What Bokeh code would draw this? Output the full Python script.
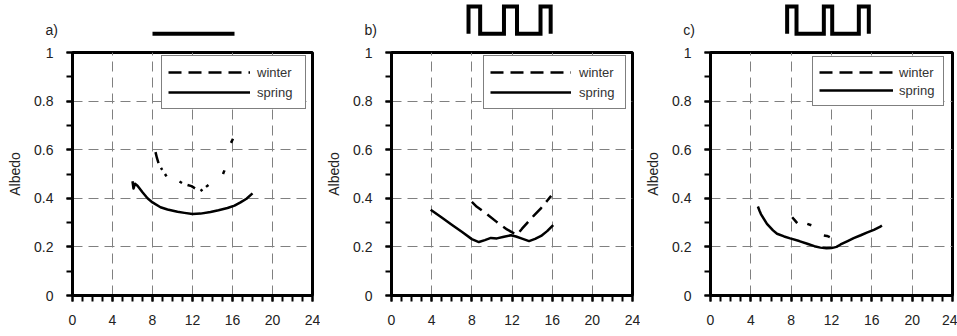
import numpy as np
from bokeh.plotting import figure
from bokeh.layouts import row, column
from bokeh.models import (Range1d, FixedTicker, NumeralTickFormatter, Legend,
                          LegendItem, Label)
from bokeh.embed import file_html
from bokeh.resources import INLINE

nan = float("nan")

# ---------------- data (hour of day, albedo) ----------------
a_spring_h = [6.0, 6.1, 6.25, 6.5, 7.0, 7.5, 8.0, 8.8, 9.5, 10.5, 11.2, 12.0,
              12.8, 13.8, 14.6, 15.5, 16.2, 16.8, 17.4, 18.0]
a_spring_alb = [0.47, 0.44, 0.46, 0.452, 0.425, 0.4, 0.383, 0.363, 0.354, 0.345,
                0.34, 0.335, 0.337, 0.344, 0.351, 0.36, 0.37, 0.383, 0.398, 0.42]
a_winter_h = [8.3, 8.45, 8.6, nan, 8.85, 8.97, nan, 9.25, 9.4, nan, 10.7, 10.95,
              nan, 11.5, 11.9, 12.25, nan, 12.8, 13.0, nan, 13.35, 13.6, nan,
              15.05, 15.2, nan, 15.85, 16.05]
a_winter_alb = [0.59, 0.565, 0.545, nan, 0.525, 0.517, nan, 0.5, 0.49, nan,
                0.469, 0.463, nan, 0.455, 0.45, 0.441, nan, 0.43, 0.436, nan,
                0.447, 0.455, nan, 0.5, 0.515, nan, 0.628, 0.645]

b_spring_h = [3.9, 5.0, 6.0, 7.0, 8.0, 8.7, 9.3, 9.9, 10.5, 11.2, 11.9, 12.4,
              13.0, 13.7, 14.3, 14.9, 15.5, 16.1]
b_spring_alb = [0.353, 0.321, 0.291, 0.262, 0.232, 0.22, 0.228, 0.237, 0.235,
                0.242, 0.248, 0.243, 0.234, 0.224, 0.233, 0.245, 0.265, 0.29]
b_winter_h = [8.0, 8.5, 9.5, 10.5, 11.5, 12.2, 12.5, 13.0, 13.5, 14.2, 14.9,
              15.5, 15.9]
b_winter_alb = [0.385, 0.365, 0.335, 0.302, 0.272, 0.256, 0.25, 0.275, 0.298,
                0.33, 0.36, 0.39, 0.41]

c_spring_h = [4.7, 4.85, 5.0, 5.6, 6.2, 6.6, 7.3, 7.9, 8.8, 9.6, 10.3, 10.9,
              11.5, 12.0, 12.5, 12.9, 13.6, 14.2, 14.9, 15.5, 16.2, 16.8, 17.0]
c_spring_alb = [0.366, 0.35, 0.335, 0.295, 0.268, 0.254, 0.243, 0.235, 0.224,
                0.213, 0.203, 0.197, 0.194, 0.195, 0.2, 0.21, 0.224, 0.236,
                0.248, 0.259, 0.27, 0.282, 0.288]
c_winter_h = [8.1, 8.35, 8.6, nan, 9.6, 10.0, nan, 11.24, 11.55, 11.83]
c_winter_alb = [0.322, 0.31, 0.298, nan, 0.295, 0.289, nan, 0.247, 0.245, 0.24]

# light regime icons (hour, off=0 / on=1)
a_light_h = [8.0, 16.2]
a_light_lvl = [0, 0]
b_light_h = [7.67, 7.67, 8.83, 8.83, 11.2, 11.2, 12.5, 12.5, 14.84, 14.84, 15.85, 15.85]
b_light_lvl = [0, 1, 1, 0, 0, 1, 1, 0, 0, 1, 1, 0]
c_light_h = [7.6, 7.6, 8.53, 8.53, 11.24, 11.24, 12.07, 12.07, 14.71, 14.71, 15.7, 15.7]
c_light_lvl = [0, 1, 1, 0, 0, 1, 1, 0, 0, 1, 1, 0]

x_ticks = [0, 4, 8, 12, 16, 20, 24]
x_minor = list(range(0, 25))
y_ticks = [0, 0.2, 0.4, 0.6, 0.8, 1.0]
y_minor = [0, 0.1, 0.2, 0.3, 0.4, 0.5, 0.6, 0.7, 0.8, 0.9, 1.0]
series_labels = ["winter", "spring"]
panel_tags = ["a)", "b)", "c)"]

FONT = "Liberation Sans"
TXT = "#222222"


def make_panel(tag, sh, sa, wh, wa, lh, ll, bl, fw, br, leg):
    width = bl + fw + br
    ppu = fw / 24.0
    icon = figure(width=width, height=44,
                  x_range=Range1d(-bl / ppu, 24 + br / ppu),
                  y_range=Range1d(-0.392, 1.22), min_border_left=0,
                  min_border_right=0, min_border_top=0, min_border_bottom=0,
                  toolbar_location=None, output_backend="svg",
                  x_axis_location=None, y_axis_location=None,
                  outline_line_color=None, frame_align=False)
    icon.grid.visible = False
    icon.line(lh, ll, line_width=4, color="black", line_join="miter")
    icon.add_layout(Label(x=-2.7, y=0.13, text=tag, text_font=FONT,
                          text_font_size="14px", text_color=TXT,
                          text_baseline="alphabetic"))

    p = figure(width=width, height=292, x_range=Range1d(0, 24),
               y_range=Range1d(0, 1), min_border_left=bl,
               min_border_right=br, min_border_top=8,
               min_border_bottom=41, toolbar_location=None,
               output_backend="svg", frame_align=False)
    p.outline_line_color = "black"
    p.outline_line_width = 3
    p.xaxis.ticker = FixedTicker(ticks=x_ticks, minor_ticks=x_minor)
    p.yaxis.ticker = FixedTicker(ticks=y_ticks, minor_ticks=y_minor)
    p.yaxis.formatter = NumeralTickFormatter(format="0.[0]")
    for ax in (p.xaxis[0], p.yaxis[0]):
        ax.axis_line_width = 3
        ax.axis_line_color = "black"
        ax.major_tick_line_width = 2
        ax.minor_tick_line_width = 2
        ax.major_tick_in = 0
        ax.major_tick_out = 6
        ax.minor_tick_in = 0
        ax.minor_tick_out = 6
        ax.major_label_text_font = FONT
        ax.major_label_text_font_size = "14px"
        ax.major_label_text_color = TXT
    p.xaxis.major_label_standoff = 13
    p.yaxis.major_label_standoff = 13
    p.yaxis.axis_label = "Albedo"
    p.yaxis.axis_label_standoff = 8
    p.yaxis.axis_label_text_font = FONT
    p.yaxis.axis_label_text_font_size = "14px"
    p.yaxis.axis_label_text_font_style = "normal"
    p.yaxis.axis_label_text_color = TXT
    for g in (p.xgrid[0], p.ygrid[0]):
        g.grid_line_color = "#808080"
        g.grid_line_dash = "10 6"
        g.grid_line_width = 1

    rw = p.line(np.array(wh), np.array(wa), line_width=2.5, color="black",
                line_dash="13 7")
    rs = p.line(sh, sa, line_width=2.5, color="black", line_join="round")

    gw, std, lw, lhgt, lx, ly = leg
    legend = Legend(items=[LegendItem(label=series_labels[0], renderers=[rw]),
                           LegendItem(label=series_labels[1], renderers=[rs])],
                    location=(lx, ly), glyph_width=gw, glyph_height=lhgt,
                    label_height=lhgt, label_width=lw, label_standoff=std,
                    padding=6, spacing=0, margin=0,
                    label_text_font=FONT, label_text_font_size="13px",
                    label_text_color="#333333",
                    border_line_color="black", border_line_width=1,
                    background_fill_color="white", background_fill_alpha=1)
    p.add_layout(legend)
    return column(icon, p, spacing=0)


pa = make_panel(panel_tags[0], a_spring_h, a_spring_alb, a_winter_h, a_winter_alb,
                a_light_h, a_light_lvl, 72, 240, 8, (82, 7, 42, 20, 89, 186))
pb = make_panel(panel_tags[1], b_spring_h, b_spring_alb, b_winter_h, b_winter_alb,
                b_light_h, b_light_lvl, 71, 241, 8, (81, 8, 40, 20, 92, 186))
pc = make_panel(panel_tags[2], c_spring_h, c_spring_alb, c_winter_h, c_winter_alb,
                c_light_h, c_light_lvl, 70, 242, 5, (74, 6, 38, 18, 102, 189))

layout = row(pa, pb, pc, spacing=0)
open("out.html", "w").write(file_html(layout, INLINE))
